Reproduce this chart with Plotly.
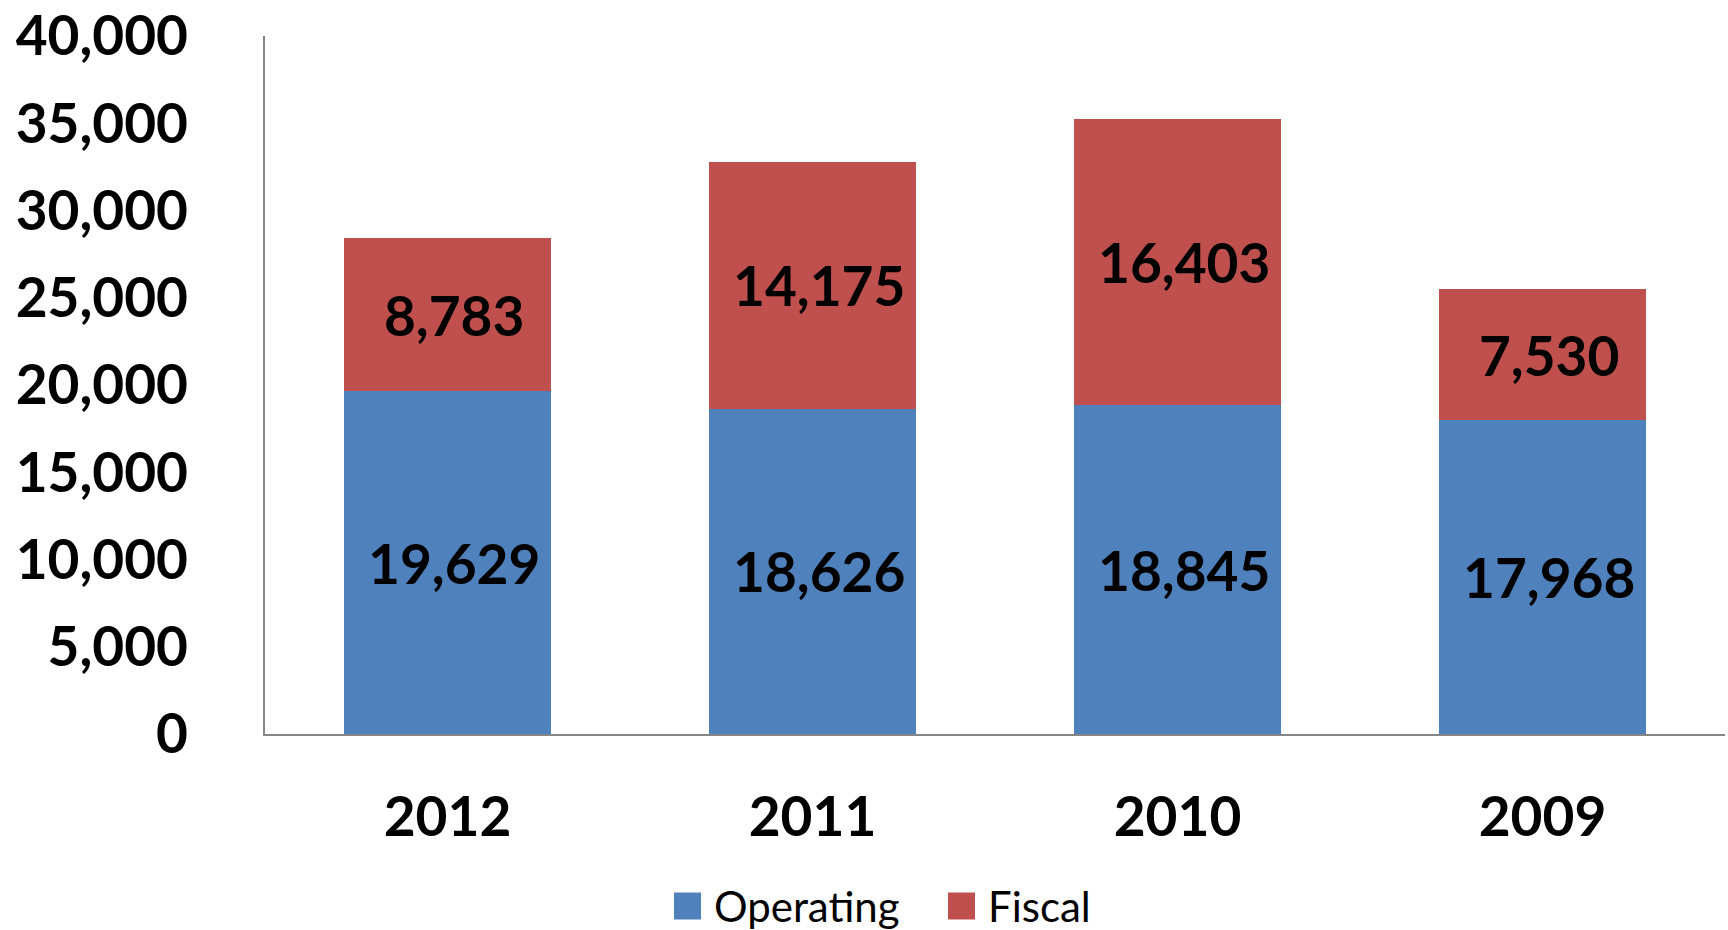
import plotly.graph_objects as go

years = ["2012", "2011", "2010", "2009"]
operating = [19629, 18626, 18845, 17968]
fiscal = [8783, 14175, 16403, 7530]
ytick_vals = [0, 5000, 10000, 15000, 20000, 25000, 30000, 35000, 40000]
series_names = ["Operating", "Fiscal"]
series_colors = ["#4F81BD", "#C0504D"]

FONT = "Lato"
label_font = dict(family=FONT, size=55, color="black", weight="bold")

W, H = 1728, 930
L, R, T, B = 265, 3, 36, 196
PW, PH = W - L - R, H - T - B

fig = go.Figure()
for name, vals, col in zip(series_names, [operating, fiscal], series_colors):
    fig.add_trace(go.Bar(
        x=years, y=vals, name=name, showlegend=False,
        marker=dict(color=col, line=dict(width=0)),
        texttemplate="&nbsp;%{y:,}", textposition="inside",
        insidetextanchor="middle", textfont=label_font, textangle=0,
    ))

def px_x(px):
    return (px - L) / PW

def px_y(py):
    return (H - B - py) / PH

leg_cy = 906
sw = 27
for (name, col, sx, tx) in [(series_names[0], series_colors[0], 674, 712),
                             (series_names[1], series_colors[1], 948, 986)]:
    fig.add_shape(type="rect", xref="paper", yref="paper",
                  x0=px_x(sx), x1=px_x(sx + sw),
                  y0=px_y(leg_cy + sw / 2), y1=px_y(leg_cy - sw / 2),
                  fillcolor=col, line=dict(width=0))
    fig.add_annotation(xref="paper", yref="paper", x=px_x(tx), y=px_y(leg_cy),
                       xanchor="left", yanchor="middle", showarrow=False,
                       text=name, font=dict(family=FONT, size=42, color="black"))

fig.update_layout(
    barmode="stack",
    bargap=0.433,
    width=W, height=H,
    margin=dict(l=L, r=R, t=T, b=B),
    plot_bgcolor="white", paper_bgcolor="white",
    font=dict(family=FONT, color="black"),
    showlegend=False,
    xaxis=dict(
        showgrid=False, showline=True, linecolor="#868686", linewidth=2,
        ticks="", automargin=False,
        tickfont=dict(family=FONT, size=55, color="black", weight="bold"),
        ticklabelstandoff=34,
    ),
    yaxis=dict(
        range=[0, 40000], tickvals=ytick_vals, tickformat=",d",
        showgrid=False, showline=True, linecolor="#868686", linewidth=2,
        ticks="", zeroline=False, automargin=False,
        tickfont=dict(family=FONT, size=55, color="black", weight="bold"),
        ticklabelstandoff=64,
    ),
)

fig.write_html("out.html", config={"displayModeBar": False},
               post_script="document.body.style.margin='0';document.body.style.overflow='hidden';")
